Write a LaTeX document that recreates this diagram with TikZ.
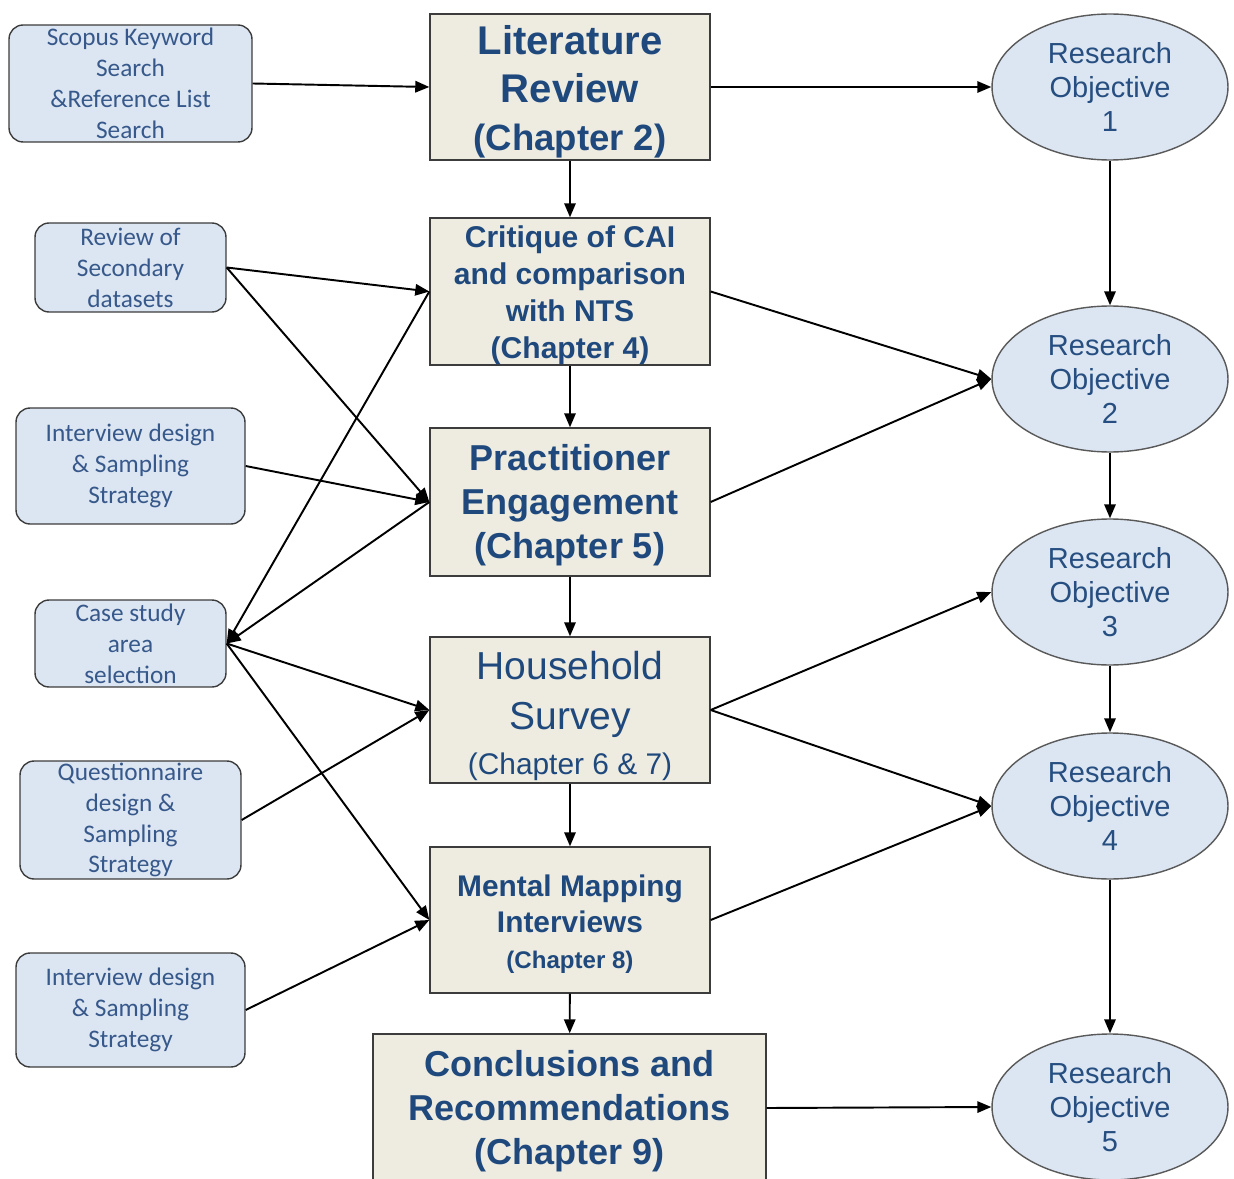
\documentclass[tikz,border=0pt]{standalone}
\usepackage{fontspec}
\setmainfont{Liberation Sans}
\newfontfamily\calfont{Carlito}
\usetikzlibrary{shapes.geometric,arrows.meta}
\definecolor{srcfill}{RGB}{220,230,242}
\definecolor{srctext}{RGB}{55,88,138}
\definecolor{chapfill}{RGB}{238,236,225}
\definecolor{chaptext}{RGB}{31,73,125}
\definecolor{objtext}{RGB}{38,78,128}
\definecolor{edgec}{RGB}{60,60,60}
\begin{document}
\begin{tikzpicture}[x=0.02cm,y=-0.02cm,
  src/.style={draw=edgec, fill=srcfill, rounded corners=8pt, text=srctext, align=center,
    inner sep=0pt, line width=0.8pt, font=\calfont\fontsize{14.4}{17.6}\selectfont},
  chap/.style={draw=edgec, fill=chapfill, inner sep=0pt, line width=0.8pt, minimum width=5.6cm},
  chaplabel/.style={text=chaptext, align=center, inner sep=0pt},
  obj/.style={ellipse, draw=edgec!85, fill=srcfill, text=objtext, align=center, inner sep=0pt,
    line width=0.8pt, minimum width=4.72cm, minimum height=2.92cm,
    font=\fontsize{16.5}{19.3}\selectfont},
  arr/.style={-{Triangle[length=8pt,width=6.5pt]}, line width=1.1pt}]
\clip (0,0) rectangle (1234,1179);
\fill[white] (0,0) rectangle (1234,1179);

% inputs on the left
\node[src, minimum width=4.86cm, minimum height=2.34cm] (scopus) at (130.5,83.5)
  {Scopus Keyword\\Search\\\&Reference List\\Search};
\node[src, minimum width=3.82cm, minimum height=1.78cm] (review) at (130.5,267.5)
  {Review of\\Secondary\\datasets};
\node[src, minimum width=4.58cm, minimum height=2.32cm] (intA) at (130.5,466)
  {Interview design\\\& Sampling\\Strategy};
\node[src, minimum width=3.82cm, minimum height=1.74cm] (case) at (130.5,643.5)
  {Case study\\area\\selection};
\node[src, minimum width=4.42cm, minimum height=2.36cm] (quest) at (130.5,820)
  {Questionnaire\\design \&\\Sampling\\Strategy};
\node[src, minimum width=4.58cm, minimum height=2.28cm] (intB) at (130.5,1010)
  {Interview design\\\& Sampling\\Strategy};

% chapter boxes in the middle
\node[chap, minimum height=2.92cm] (lit) at (570,87) {};
\node[chap, minimum height=2.94cm] (crit) at (570,291.5) {};
\node[chap, minimum height=2.96cm] (prac) at (570,502) {};
\node[chap, minimum height=2.92cm] (house) at (570,710) {};
\node[chap, minimum height=2.92cm] (mental) at (570,920) {};
\node[chap, minimum width=7.86cm, minimum height=2.96cm] (concl) at (569.5,1108) {};

% chapter titles
\node[chaplabel, font=\bfseries\fontsize{22.8}{27.3}\selectfont] (litT) at (570,92)
  {Literature\\Review\\{\fontsize{20.8}{27.3}\selectfont(Chapter 2)}};
\node[chaplabel, font=\bfseries\fontsize{17.1}{21}\selectfont] (critT) at (570,295)
  {Critique of CAI\\and comparison\\with NTS\\(Chapter 4)};
\node[chaplabel, font=\bfseries\fontsize{20.5}{25}\selectfont] (pracT) at (570,505)
  {Practitioner\\Engagement\\(Chapter 5)};
\node[chaplabel, font=\fontsize{22.2}{28.4}\selectfont] (houseT) at (570,716)
  {Household\\Survey\\[-3pt]{\fontsize{17}{20}\selectfont(Chapter 6 \& 7)}};
\node[chaplabel, font=\bfseries\fontsize{17}{20.5}\selectfont] (mentalT) at (570,924)
  {Mental Mapping\\Interviews\\{\fontsize{13.7}{20}\selectfont(Chapter 8)}};
\node[chaplabel, font=\bfseries\fontsize{20.5}{25}\selectfont] (conclT) at (569.5,1111)
  {Conclusions and\\Recommendations\\(Chapter 9)};

% research objectives on the right
\node[obj] (ro1) at (1110,87) {Research\\Objective\\1};
\node[obj] (ro2) at (1110,379) {Research\\Objective\\2};
\node[obj] (ro3) at (1110,592) {Research\\Objective\\3};
\node[obj] (ro4) at (1110,806) {Research\\Objective\\4};
\node[obj] (ro5) at (1110,1107) {Research\\Objective\\5};

% main chain
\draw[arr] (lit) -- (crit);
\draw[arr] (crit) -- (prac);
\draw[arr] (prac) -- (house);
\draw[arr] (house) -- (mental);
\draw[arr] (mental) -- (concl);

% objectives chain
\draw[arr] (ro1) -- (ro2);
\draw[arr] (ro2) -- (ro3);
\draw[arr] (ro3) -- (ro4);
\draw[arr] (ro4) -- (ro5);

% inputs to chapters
\draw[arr] (scopus.east) -- (lit.west);
\draw[arr] (review.east) -- (crit.west);
\draw[arr] (review.east) -- (prac.west);
\draw[arr] (intA.east) -- (prac.west);
\draw[arr] (crit.west) -- (case.east);
\draw[arr] (prac.west) -- (case.east);
\draw[arr] (case.east) -- (house.west);
\draw[arr] (case.east) -- (mental.west);
\draw[arr] (quest.east) -- (house.west);
\draw[arr] (intB.east) -- (mental.west);

% chapters to objectives
\draw[arr] (lit.east) -- (ro1.west);
\draw[arr] (crit.east) -- (ro2.west);
\draw[arr] (prac.east) -- (ro2.west);
\draw[arr] (house.east) -- (ro3.west);
\draw[arr] (house.east) -- (ro4.west);
\draw[arr] (mental.east) -- (ro4.west);
\draw[arr] (concl.east) -- (ro5.west);
\end{tikzpicture}
\end{document}
